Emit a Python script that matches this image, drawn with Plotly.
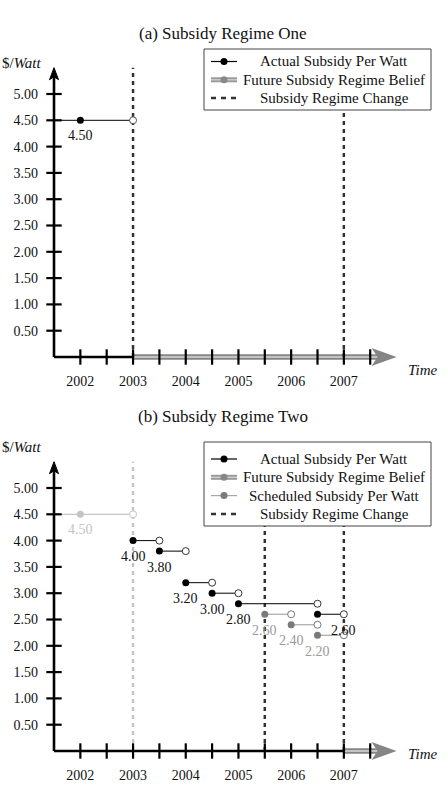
import plotly.graph_objects as go

# ---------------- data ----------------
year_ticks = [2002, 2003, 2004, 2005, 2006, 2007]
year_tick_text = ["2002", "2003", "2004", "2005", "2006", "2007"]
half_year_ticks = [2002, 2002.5, 2003, 2003.5, 2004, 2004.5, 2005, 2005.5,
                   2006, 2006.5, 2007, 2007.5]
value_ticks = [0.5, 1.0, 1.5, 2.0, 2.5, 3.0, 3.5, 4.0, 4.5, 5.0]
value_tick_text = ["0.50", "1.00", "1.50", "2.00", "2.50", "3.00", "3.50",
                   "4.00", "4.50", "5.00"]

# Panel (a): regime one
a_actual_start = [2001.5]
a_actual_dot = [2002]
a_actual_end = [2003]
a_actual_val = [4.50]
a_regime_change = [2003, 2007]
a_belief_start = 2003

# Panel (b): regime two
b_old_start = [2001.5]
b_old_dot = [2002]
b_old_end = [2003]
b_old_val = [4.50]
b_old_change = [2003]

b_actual_start = [2003, 2003.5, 2004, 2004.5, 2005, 2006.5]
b_actual_end = [2003.5, 2004, 2004.5, 2005, 2006.5, 2007]
b_actual_val = [4.00, 3.80, 3.20, 3.00, 2.80, 2.60]
b_actual_label_x = [2003, 2003.5, 2004, 2004.5, 2005, 2007]

b_sched_start = [2005.5, 2006, 2006.5]
b_sched_end = [2006, 2006.5, 2007]
b_sched_val = [2.60, 2.40, 2.20]

b_regime_change = [2005.5, 2007]
b_belief_start = 2007

legend_a = ["Actual Subsidy Per Watt", "Future Subsidy Regime Belief",
            "Subsidy Regime Change"]
legend_b = ["Actual Subsidy Per Watt", "Future Subsidy Regime Belief",
            "Scheduled Subsidy Per Watt", "Subsidy Regime Change"]

axis_x0 = 2001.5
axis_x_end = 2008.0
axis_y_top = 5.5
line_y_top = 5.5

# ---------------- geometry / style ----------------
W, H = 446, 793
PX_X = 52.7
PX_Y = 52.6
ORIGIN_PX = 54
ZERO_A = 357
ZERO_B = 751
FONT = "Liberation Serif, Times New Roman, serif"

BLACK = "#000000"
GRAY = "#858585"
SCHED_LINE = "#a8a8a8"
SCHED_DOT = "#7a7a7a"
SCHED_TXT = "#9a9a9a"
OLD = "#c4c4c4"
DASH = "#333333"
DASH_PATTERN = "4px,4px"

fig = go.Figure()


def segs(starts, ends, vals):
    xs, ys = [], []
    for s, e, v in zip(starts, ends, vals):
        xs += [s, e, None]
        ys += [v, v, None]
    return xs, ys


def vlines(xs, top):
    px, py = [], []
    for a in xs:
        px += [a, a, None]
        py += [0, top, None]
    return px, py


def add_axes(xa, ya, belief_start):
    fig.add_trace(go.Scatter(x=[axis_x0, axis_x0], y=[0, axis_y_top - 0.15], mode="lines",
                             line=dict(color=BLACK, width=2.6), xaxis=xa, yaxis=ya,
                             showlegend=False, hoverinfo="skip"))
    fig.add_trace(go.Scatter(x=[axis_x0, belief_start], y=[0, 0], mode="lines",
                             line=dict(color=BLACK, width=2.6), xaxis=xa, yaxis=ya,
                             showlegend=False, hoverinfo="skip"))
    fig.add_trace(go.Scatter(x=[belief_start, axis_x_end - 0.35], y=[0, 0], mode="lines",
                             line=dict(color=GRAY, width=5.5), xaxis=xa, yaxis=ya,
                             showlegend=False, hoverinfo="skip"))
    fig.add_trace(go.Scatter(x=[belief_start, axis_x_end - 0.35], y=[0, 0], mode="lines",
                             line=dict(color="#d8d8d8", width=1.5), xaxis=xa, yaxis=ya,
                             showlegend=False, hoverinfo="skip"))


def add_ticks(xa, ya):
    fig.add_trace(go.Scatter(x=half_year_ticks, y=[0] * len(half_year_ticks), mode="markers",
                             marker=dict(symbol="line-ns", size=11,
                                         line=dict(color=BLACK, width=2.2)),
                             xaxis=xa, yaxis=ya, showlegend=False, hoverinfo="skip",
                             cliponaxis=False))
    fig.add_trace(go.Scatter(x=[axis_x0] * len(value_ticks), y=value_ticks, mode="markers",
                             marker=dict(symbol="line-ew", size=11,
                                         line=dict(color=BLACK, width=2.2)),
                             xaxis=xa, yaxis=ya, showlegend=False, hoverinfo="skip",
                             cliponaxis=False))


def add_arrows(xref, yref):
    fig.add_shape(type="path", xref=xref, yref=yref, xsizemode="pixel", ysizemode="pixel",
                  xanchor=axis_x_end, yanchor=0,
                  path="M-25,9 L0,0 L-25,-9 L-19,0 Z",
                  fillcolor=GRAY, line=dict(width=0), layer="above")
    fig.add_shape(type="path", xref=xref, yref=yref, xsizemode="pixel", ysizemode="pixel",
                  xanchor=axis_x0, yanchor=axis_y_top,
                  path="M-4.5,-12 L0,0 L4.5,-12 L0,-9 Z",
                  fillcolor=BLACK, line=dict(width=1, color=BLACK), layer="above")


def seg_traces(xa, ya, starts, ends, vals, line_col, line_w, open_col):
    sx, sy = segs(starts, ends, vals)
    fig.add_trace(go.Scatter(x=sx, y=sy, mode="lines", line=dict(color=line_col, width=line_w),
                             xaxis=xa, yaxis=ya, showlegend=False, hoverinfo="skip"))
    fig.add_trace(go.Scatter(x=ends, y=vals, mode="markers",
                             marker=dict(color="white", size=7, line=dict(color=open_col, width=1)),
                             xaxis=xa, yaxis=ya, showlegend=False, hoverinfo="skip",
                             cliponaxis=False))


def dot_trace(xa, ya, xs, vals, col):
    fig.add_trace(go.Scatter(x=xs, y=vals, mode="markers", marker=dict(color=col, size=7),
                             xaxis=xa, yaxis=ya, showlegend=False, hoverinfo="skip",
                             cliponaxis=False))


def labels(xref, yref, xs, vals, col, shift):
    for x0, v in zip(xs, vals):
        fig.add_annotation(x=x0, y=v, xref=xref, yref=yref, text=f"{v:.2f}", showarrow=False,
                           yshift=shift, font=dict(family=FONT, size=14, color=col))


# ---------- panel (a) ----------
add_axes("x", "y", a_belief_start)
vx, vy = vlines(a_regime_change, line_y_top)
fig.add_trace(go.Scatter(x=vx, y=vy, mode="lines",
                         line=dict(color=DASH, width=2.5, dash=DASH_PATTERN),
                         xaxis="x", yaxis="y", showlegend=False, hoverinfo="skip"))
seg_traces("x", "y", a_actual_start, a_actual_end, a_actual_val, BLACK, 1, "#555")
dot_trace("x", "y", a_actual_dot, a_actual_val, BLACK)
add_ticks("x", "y")
add_arrows("x", "y")
labels("x", "y", a_actual_dot, a_actual_val, "#111", -15)

# ---------- panel (b) ----------
add_axes("x2", "y2", b_belief_start)
vx, vy = vlines(b_old_change, line_y_top)
fig.add_trace(go.Scatter(x=vx, y=vy, mode="lines",
                         line=dict(color=OLD, width=2.3, dash=DASH_PATTERN),
                         xaxis="x2", yaxis="y2", showlegend=False, hoverinfo="skip"))
vx, vy = vlines(b_regime_change, line_y_top)
fig.add_trace(go.Scatter(x=vx, y=vy, mode="lines",
                         line=dict(color=DASH, width=2.5, dash=DASH_PATTERN),
                         xaxis="x2", yaxis="y2", showlegend=False, hoverinfo="skip"))
seg_traces("x2", "y2", b_old_start, b_old_end, b_old_val, OLD, 1.2, OLD)
dot_trace("x2", "y2", b_old_dot, b_old_val, OLD)
seg_traces("x2", "y2", b_sched_start, b_sched_end, b_sched_val, SCHED_LINE, 1.2, "#777")
dot_trace("x2", "y2", b_sched_start, b_sched_val, SCHED_DOT)
seg_traces("x2", "y2", b_actual_start, b_actual_end, b_actual_val, BLACK, 1, "#333")
dot_trace("x2", "y2", b_actual_start, b_actual_val, BLACK)
add_ticks("x2", "y2")
add_arrows("x2", "y2")
labels("x2", "y2", b_old_dot, b_old_val, OLD, -15)
labels("x2", "y2", b_actual_label_x, b_actual_val, "#111", -16)
labels("x2", "y2", b_sched_start, b_sched_val, SCHED_TXT, -16)


# ---------- legends (centered text like the original) ----------
def px2x(p):
    return p / W


def px2y(p):
    return 1 - p / H


def legend_symbol(kind, yc):
    x0, x1 = 211, 237
    xc = (x0 + x1) / 2
    common = dict(type="line", xref="paper", yref="paper", x0=px2x(x0), x1=px2x(x1),
                  y0=px2y(yc), y1=px2y(yc), layer="above")
    if kind == "actual":
        fig.add_shape(**common, line=dict(color=BLACK, width=1.2))
        dot_col = BLACK
    elif kind == "belief":
        fig.add_shape(**common, line=dict(color="#999", width=5))
        fig.add_shape(**common, line=dict(color="#d8d8d8", width=1.2))
        dot_col = "#888"
    elif kind == "sched":
        fig.add_shape(**common, line=dict(color=SCHED_LINE, width=1.2))
        dot_col = SCHED_DOT
    else:
        fig.add_shape(**common, line=dict(color=DASH, width=2.5, dash="5px,5px"))
        return
    fig.add_shape(type="circle", xref="paper", yref="paper", xsizemode="pixel",
                  ysizemode="pixel", xanchor=px2x(xc), yanchor=px2y(yc),
                  x0=-3.5, x1=3.5, y0=-3.5, y1=3.5, fillcolor=dot_col,
                  line=dict(width=0), layer="above")


def draw_legend(names, kinds, top, bottom, row0, step):
    fig.add_shape(type="rect", xref="paper", yref="paper", x0=px2x(204), x1=px2x(431),
                  y0=px2y(bottom), y1=px2y(top), fillcolor="white",
                  line=dict(color="#444", width=1), layer="above")
    for i, (nm, kd) in enumerate(zip(names, kinds)):
        yc = row0 + i * step
        legend_symbol(kd, yc)
        fig.add_annotation(x=px2x(334), y=px2y(yc), xref="paper", yref="paper", text=nm,
                           showarrow=False, xanchor="center", yanchor="middle",
                           font=dict(family=FONT, size=15, color="#111"))


draw_legend(legend_a, ["actual", "belief", "dash"], 49, 110, 61.5, 18.3)
draw_legend(legend_b, ["actual", "belief", "sched", "dash"], 442, 526, 459, 18.3)

# ---------- titles / axis labels ----------
for ypx, txt in [(22, "(a) Subsidy Regime One"), (417, "(b) Subsidy Regime Two")]:
    fig.add_annotation(x=0.5, y=px2y(ypx), xref="paper", yref="paper", text=txt,
                       showarrow=False, font=dict(family=FONT, size=17, color="#111"))
for ypx in [53, 447]:
    fig.add_annotation(x=0, y=px2y(ypx), xref="paper", yref="paper",
                       text="$/<i>Watt</i>", xanchor="left", showarrow=False,
                       font=dict(family=FONT, size=15, color="#111"))
for ypx in [370, 764]:
    fig.add_annotation(x=1 - 6 / W, y=px2y(ypx), xref="paper", yref="paper",
                       text="<i>Time</i>", xanchor="right", showarrow=False,
                       font=dict(family=FONT, size=15, color="#111"))

# ---------- axes ----------
x_lo = axis_x0 - ORIGIN_PX / PX_X
x_hi = axis_x0 + (W - ORIGIN_PX) / PX_X
half = H / 2
ya_lo = -(half - ZERO_A) / PX_Y
ya_hi = ZERO_A / PX_Y
yb_lo = -(H - ZERO_B) / PX_Y
yb_hi = (ZERO_B - half) / PX_Y

xcommon = dict(range=[x_lo, x_hi], domain=[0, 1], showgrid=False, zeroline=False,
               showline=False, ticks="", tickvals=year_ticks, ticktext=year_tick_text,
               tickfont=dict(family=FONT, size=14, color="#111"), anchor="free",
               ticklabelstandoff=14)
ycommon = dict(showgrid=False, zeroline=False, showline=False, ticks="",
               tickvals=value_ticks, ticktext=value_tick_text,
               tickfont=dict(family=FONT, size=14, color="#111"), anchor="free",
               position=ORIGIN_PX / W, ticklabelstandoff=16)

fig.update_layout(
    width=W, height=H,
    margin=dict(l=0, r=0, t=0, b=0),
    paper_bgcolor="white", plot_bgcolor="rgba(0,0,0,0)",
    xaxis=dict(**xcommon, position=1 - ZERO_A / H),
    xaxis2=dict(**xcommon, position=1 - ZERO_B / H),
    yaxis=dict(**ycommon, domain=[0.5, 1], range=[ya_lo, ya_hi]),
    yaxis2=dict(**ycommon, domain=[0, 0.5], range=[yb_lo, yb_hi]),
    showlegend=False,
)

fig.write_html("out.html")
